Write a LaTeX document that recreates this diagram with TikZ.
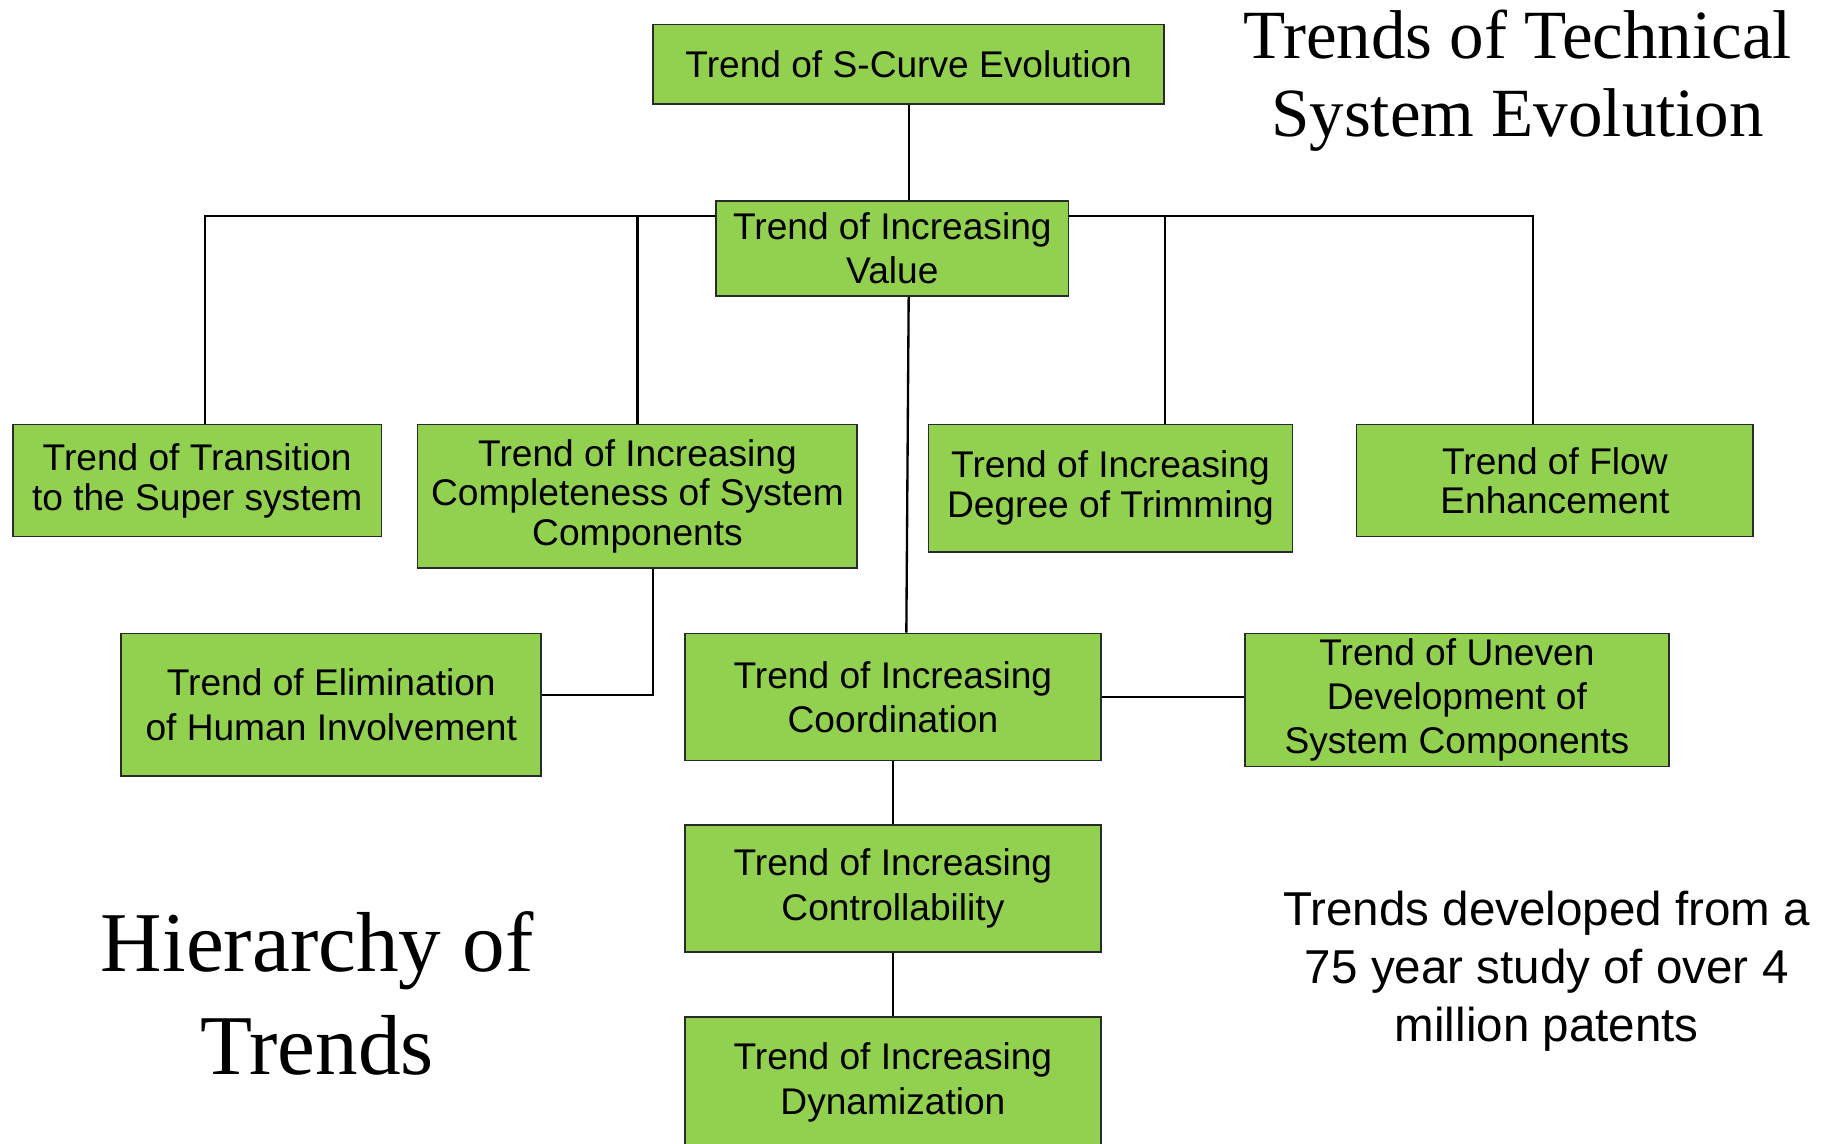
\documentclass[tikz,border=0pt]{standalone}
\usepackage{fontspec}
\newfontfamily\boxfont{Liberation Sans}
\newfontfamily\serfont{Liberation Serif}
\definecolor{boxgreen}{HTML}{92D050}
\definecolor{boxedge}{HTML}{2A2A2A}
\begin{document}
\begin{tikzpicture}[x=0.6pt,y=-0.6pt,
  trendbox/.style={draw=boxedge, line width=0.9pt, fill=boxgreen, inner sep=0pt, align=center,
    font=\boxfont\fontsize{19.1pt}{22.8pt}\selectfont},
  tightbox/.style={trendbox, font=\boxfont\fontsize{19.1pt}{20.4pt}\selectfont},
  link/.style={draw=black, line width=1.2pt},
  titletext/.style={inner sep=0pt, align=center, anchor=base}]
\useasboundingbox (0,0) rectangle (1568,980);
\fill[white] (0,0) rectangle (1568,980);

\node[trendbox, minimum width=262.8pt, minimum height=40.8pt] (scurve) at (779,55) {Trend of S-Curve Evolution};
\node[trendbox, minimum width=181.2pt, minimum height=49.2pt] (value) at (765,213) {Trend of Increasing\\Value};
\node[tightbox, minimum width=189.6pt, minimum height=57.6pt] (trans) at (169,412) {Trend of Transition\\to the Super system};
\node[tightbox, minimum width=226.2pt, minimum height=73.8pt] (compl) at (546.5,425.5) {Trend of Increasing\\Completeness of System\\Components};
\node[tightbox, minimum width=187.2pt, minimum height=65.4pt] (trim) at (952,418.5) {Trend of Increasing\\Degree of Trimming};
\node[tightbox, minimum width=204pt, minimum height=57.6pt] (flow) at (1333,412) {Trend of Flow\\Enhancement};
\node[trendbox, font=\boxfont\fontsize{19.1pt}{23.4pt}\selectfont, minimum width=216pt, minimum height=73.2pt] (elim) at (284,604) {Trend of Elimination\\of Human Involvement};
\node[trendbox, minimum width=214.2pt, minimum height=65.4pt] (coord) at (765.5,597.5) {Trend of Increasing\\Coordination};
\node[trendbox, minimum width=218.4pt, minimum height=68.4pt] (uneven) at (1249,600) {Trend of Uneven\\Development of\\System Components};
\node[trendbox, minimum width=214.2pt, minimum height=65.4pt] (ctrl) at (765.5,761.5) {Trend of Increasing\\Controllability};
\node[trendbox, minimum width=214.2pt, minimum height=67.2pt] (dyn) at (765.5,928) {Trend of Increasing\\Dynamization};

\node[titletext, font=\serfont\fontsize{35.5pt}{40.2pt}\selectfont] (title) at (1301,117) {Trends of Technical\\System Evolution};
\node[titletext, font=\serfont\fontsize{43.8pt}{52.8pt}\selectfont] (hier) at (272,921) {Hierarchy of\\Trends};
\node[titletext, font=\boxfont\fontsize{24.45pt}{30pt}\selectfont] (note) at (1326,893) {Trends developed from a\\75 year study of over 4\\million patents};

\coordinate (bus) at (0,185);
\draw[link] (scurve.south) -- (scurve.south |- value.north);
\draw[link] ([xshift=4.2pt]trans.north) |- (value.west |- bus);
\draw[link] (compl.north) -- (compl.north |- bus);
\draw[link] (value.east |- bus) -| ([xshift=-11.4pt]flow.north);
\draw[link] ([xshift=28.2pt]trim.north) -- ([xshift=28.2pt]trim.north |- bus);
\draw[link] ([xshift=8.4pt]value.south) -- ([xshift=6.9pt]coord.north);
\draw[link] ([xshift=8.1pt]compl.south) |- ([yshift=4.8pt]elim.east);
\draw[link] (coord.east) -- (coord.east -| uneven.west);
\draw[link] (coord.south) -- (ctrl.north);
\draw[link] (ctrl.south) -- (dyn.north);
\end{tikzpicture}
\end{document}
